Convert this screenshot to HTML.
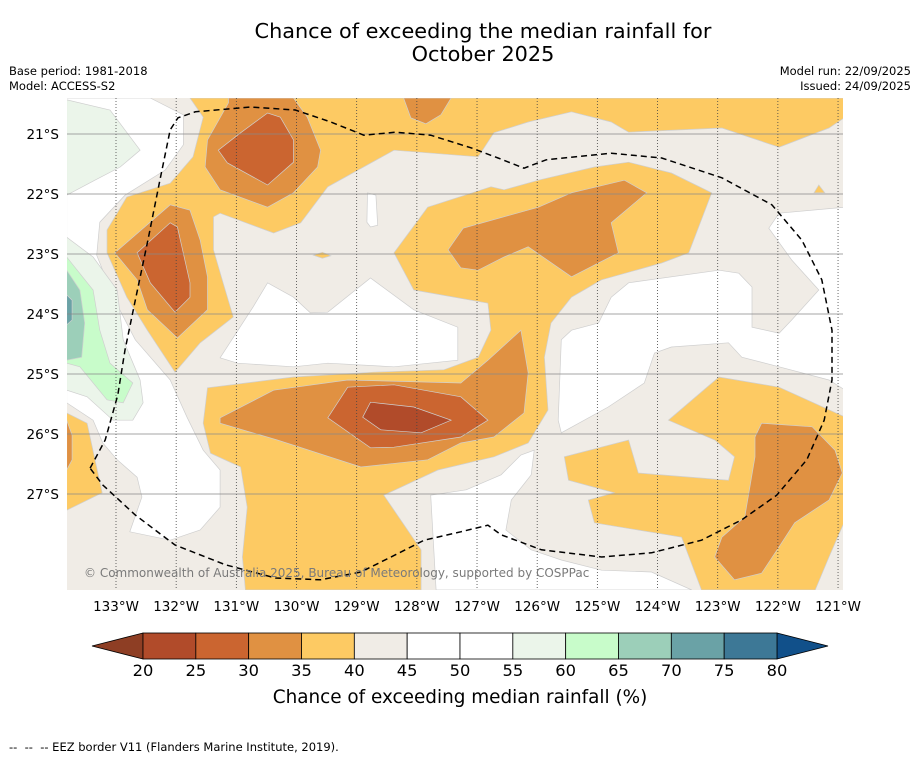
<!DOCTYPE html>
<html><head><meta charset="utf-8"><style>
body{margin:0;background:#fff;width:919px;height:758px;overflow:hidden;font-family:"Liberation Sans","DejaVu Sans",sans-serif}
svg{position:absolute;left:0;top:0}
</style></head><body>
<svg id="chart" width="919" height="758" font-family="DejaVu Sans, Liberation Sans, sans-serif">
<text x="483" y="38" font-size="20.8" text-anchor="middle">Chance of exceeding the median rainfall for</text>
<text x="483" y="61" font-size="20.8" text-anchor="middle">October 2025</text>
<text x="9" y="75" font-size="11.5">Base period: 1981-2018</text>
<text x="9" y="90" font-size="11.5">Model: ACCESS-S2</text>
<text x="911" y="75" font-size="11.5" text-anchor="end">Model run: 22/09/2025</text>
<text x="911" y="90" font-size="11.5" text-anchor="end">Issued: 24/09/2025</text>
<defs><clipPath id="mapclip"><rect x="67" y="98" width="776" height="492"/></clipPath></defs>
<g id="map" clip-path="url(#mapclip)"></g>
<g id="axes"></g>
<g id="cbar"></g>
<text x="460" y="703" font-size="18.4" text-anchor="middle">Chance of exceeding median rainfall (%)</text>
<text x="9" y="751" font-size="11.5" style="white-space:pre">--  --  -- EEZ border V11 (Flanders Marine Institute, 2019).</text>
</svg>
<script>
// Axis tick values
const lonTicks=[133,132,131,130,129,128,127,126,125,124,123,122,121];
const latTicks=[21,22,23,24,25,26,27];
// Colour levels (%)
const levelEdges=[20,25,30,35,40,45,50,55,60,65,70,75,80];
const levelColors=["#b14b2a","#cb6530","#e09142","#fdca63","#f0ece6","#ffffff","#ffffff","#ebf5ea","#c8fcca","#9ccfb9","#6aa2a6","#3d7896"];
const underColor="#8e3e24", overColor="#11508a";
// Contour regions, [lon °W, lat °S]
const white1=[[133.82,20.40],[132.43,20.40],[131.88,20.68],[131.88,21.18],[132.18,21.60],[132.85,22.02],[133.27,22.47],[133.32,23.02],[133.02,23.77],[132.68,24.43],[132.10,25.10],[131.82,25.72],[131.55,26.27],[131.27,26.60],[131.27,27.22],[131.60,27.60],[132.10,27.77],[132.77,27.63],[132.57,27.05],[132.65,26.72],[132.98,26.43],[133.22,26.15],[133.38,25.77],[133.82,25.48]];
const white2=[[131.27,24.73],[130.72,23.88],[130.48,23.48],[130.05,23.72],[129.77,23.98],[129.48,23.97],[128.77,23.40],[128.05,23.93],[127.32,24.22],[127.32,24.77],[128.38,24.88],[129.48,24.82],[130.05,24.88],[130.98,24.82]];
const whitePill=[[128.82,21.98],[128.68,22.02],[128.65,22.52],[128.77,22.55],[128.83,22.47]];
const white3=[[125.60,24.43],[125.43,24.27],[124.98,24.15],[124.77,23.72],[124.48,23.48],[122.98,23.27],[122.65,23.32],[122.43,23.55],[122.43,24.22],[121.98,24.32],[121.77,24.10],[121.32,23.60],[121.77,23.10],[122.15,22.57],[121.98,22.32],[120.88,22.22],[120.88,25.27],[121.15,25.10],[121.98,24.88],[122.60,24.72],[122.82,24.48],[123.77,24.55],[124.05,24.65],[124.22,25.15],[124.82,25.55],[125.60,25.98],[125.65,25.77]];
const white4=[[127.77,27.02],[127.18,26.93],[126.60,26.68],[126.27,26.35],[126.05,26.27],[126.10,26.68],[126.43,27.10],[126.52,27.60],[126.10,27.93],[125.60,28.10],[124.93,28.27],[124.10,28.30],[123.43,28.60],[127.68,28.60]];
const green55a=[[133.82,20.43],[133.10,20.60],[132.60,21.27],[132.93,21.55],[133.35,21.77],[133.82,22.02]];
const green55b=[[133.82,22.72],[133.38,23.05],[132.98,23.60],[132.88,24.43],[132.60,25.10],[132.55,25.48],[132.72,25.77],[133.05,25.77],[133.48,25.38],[133.82,25.27]];
const green60=[[133.82,23.05],[133.38,23.60],[133.27,24.27],[133.10,24.82],[132.72,25.15],[132.88,25.48],[133.15,25.43],[133.60,24.88],[133.82,24.82]];
const green65=[[133.82,23.27],[133.60,23.60],[133.52,24.15],[133.57,24.72],[133.82,24.77]];
const green70=[[133.82,23.68],[133.73,23.77],[133.73,24.10],[133.82,24.18]];
const yellow1=[[131.77,20.40],[131.55,20.72],[131.72,21.38],[132.10,21.82],[132.82,22.05],[133.15,22.60],[133.15,22.98],[132.82,23.72],[132.48,24.27],[132.02,24.97],[131.60,24.48],[131.05,24.05],[131.22,23.48],[131.38,22.93],[131.38,22.38],[131.27,22.32],[130.38,22.65],[129.93,22.48],[129.48,21.88],[128.38,21.27],[126.98,21.38],[126.72,20.98],[126.15,20.80],[125.43,20.63],[124.77,20.80],[124.48,20.97],[122.93,20.90],[121.98,21.22],[121.15,20.90],[120.88,20.72],[120.88,20.40]];
const yellow2=[[126.77,21.88],[127.82,22.22],[128.38,22.98],[128.05,23.60],[126.82,23.82],[126.77,24.27],[126.98,24.72],[127.55,24.93],[128.72,24.97],[130.05,25.05],[131.48,25.23],[131.55,25.82],[131.43,26.32],[130.93,26.55],[130.82,27.22],[130.90,28.05],[130.85,28.60],[127.93,28.60],[127.93,27.93],[128.55,27.02],[127.65,26.60],[126.72,26.38],[126.15,26.15],[125.82,25.60],[125.88,24.72],[125.77,24.15],[125.43,23.72],[124.93,23.43],[123.93,23.15],[123.48,22.98],[123.10,21.98],[123.77,21.65],[124.48,21.47],[125.05,21.55],[125.98,21.77],[126.55,21.93]];
const yellow3=[[122.98,25.05],[121.98,25.22],[120.88,25.72],[120.88,27.43],[121.15,28.05],[121.38,28.60],[123.27,28.60],[123.60,27.72],[125.05,27.48],[125.15,27.10],[124.72,26.98],[125.48,26.77],[125.55,26.38],[124.48,26.10],[124.32,26.65],[122.82,26.77],[122.72,26.38],[123.05,26.10],[123.82,25.77]];
const yellow4=[[133.82,25.65],[133.48,25.82],[133.23,26.98],[133.82,27.27]];
const yellowSpot1=[[121.40,21.98],[121.32,21.85],[121.22,21.98]];
const yellowSpot2=[[129.72,23.02],[129.57,22.97],[129.43,23.03],[129.57,23.07]];
const orangeTop=[[128.22,20.40],[128.10,20.73],[127.85,20.83],[127.60,20.68],[127.43,20.40]];
const orangeNW=[[131.13,20.40],[131.13,20.48],[131.48,21.10],[131.52,21.55],[131.27,21.93],[130.48,22.22],[130.05,21.98],[129.65,21.55],[129.60,21.27],[129.82,20.72],[130.05,20.40]];
const orangeW=[[133.02,22.98],[132.10,22.18],[131.77,22.27],[131.60,22.77],[131.48,23.38],[131.48,23.93],[131.98,24.40],[132.48,23.93],[132.65,23.43]];
const orangeMid=[[131.27,25.73],[130.38,25.27],[129.15,25.10],[127.27,25.15],[126.82,24.77],[126.27,24.27],[126.15,24.98],[126.22,25.65],[126.72,26.05],[127.27,26.15],[127.82,26.43],[128.93,26.55],[130.32,26.10],[131.27,25.82]];
const orangeNE=[[127.48,22.93],[127.23,22.57],[125.98,22.22],[125.43,21.98],[124.55,21.77],[124.18,21.98],[124.77,22.48],[124.65,22.98],[125.43,23.38],[126.15,22.88],[126.55,23.05],[126.98,23.27],[127.27,23.23]];
const orangeSE=[[122.27,25.82],[121.43,25.88],[121.05,26.27],[120.93,26.65],[121.15,27.10],[121.72,27.48],[121.98,27.88],[122.27,28.32],[122.72,28.43],[123.05,28.05],[122.93,27.72],[122.55,27.38],[122.38,26.38],[122.38,26.05]];
const orangeSW=[[133.82,25.77],[133.73,26.02],[133.73,26.43],[133.82,26.60]];
const darkNW=[[131.30,21.27],[131.15,21.48],[130.48,21.85],[130.05,21.47],[130.05,21.10],[130.27,20.72],[130.48,20.65],[130.93,20.98]];
const darkW=[[132.65,22.98],[132.10,22.48],[131.98,22.55],[131.77,23.48],[131.77,23.72],[132.02,23.97],[132.43,23.48]];
const darkMid=[[129.48,25.73],[129.15,25.22],[128.38,25.18],[127.27,25.38],[126.82,25.77],[127.27,26.05],[128.38,26.22],[128.77,26.23]];
const darkestMid=[[128.90,25.72],[128.77,25.47],[128.05,25.55],[127.43,25.77],[127.93,25.98],[128.60,25.93]];
const eezBorder=[[133.43,26.57],[133.18,26.10],[132.97,25.35],[132.85,24.60],[132.68,23.77],[132.47,22.77],[132.27,21.77],[132.10,20.93],[131.97,20.73],[131.68,20.63],[130.77,20.55],[130.02,20.60],[129.43,20.80],[128.88,21.02],[128.35,20.97],[127.77,21.02],[127.10,21.23],[126.65,21.40],[126.22,21.57],[125.85,21.43],[124.77,21.32],[123.93,21.40],[122.93,21.73],[122.10,22.18],[121.60,22.77],[121.27,23.43],[121.10,24.27],[121.10,25.10],[121.23,25.77],[121.52,26.43],[122.02,27.02],[122.60,27.43],[123.27,27.77],[124.10,27.98],[124.93,28.05],[125.93,27.93],[126.60,27.68],[126.82,27.52],[127.27,27.63],[127.88,27.77],[128.27,27.97],[128.93,28.30],[129.60,28.43],[130.35,28.40],[131.18,28.18],[132.02,27.85],[132.68,27.35],[133.22,26.85],[133.43,26.57]];
const layers=[
 ["white-region-west",white1,45],["white-region-centre",white2,45],["white-spot",whitePill,45],["white-region-east",white3,45],["white-region-south",white4,45],
 ["green-55-north",green55a,55],["green-55-west",green55b,55],["green-60",green60,60],["green-65",green65,65],["green-70",green70,70],
 ["yellow-north",yellow1,35],["yellow-central",yellow2,35],["yellow-southeast",yellow3,35],["yellow-southwest",yellow4,35],["yellow-spot-ne",yellowSpot1,35],["yellow-spot-c",yellowSpot2,35],
 ["orange-top",orangeTop,30],["orange-northwest",orangeNW,30],["orange-west",orangeW,30],["orange-middle",orangeMid,30],["orange-northeast",orangeNE,30],["orange-southeast",orangeSE,30],["orange-southwest",orangeSW,30],
 ["dark-northwest",darkNW,25],["dark-west",darkW,25],["dark-middle",darkMid,25],["darkest-middle",darkestMid,20]
];
const cbarLabels=[20,25,30,35,40,45,50,55,60,65,70,75,80];

const NS="http://www.w3.org/2000/svg";
const X0=116, PXLON=60.17, Y0=134, PXLAT=60;
function xS(lonW){return X0+(133-lonW)*PXLON;}
function yS(latS){return Y0+(latS-21)*PXLAT;}
function colorFor(v){const i=levelEdges.findIndex((e,k)=>v>=e&&v<levelEdges[k+1]);return levelColors[i];}
function mk(tag,attrs,parent){const e=document.createElementNS(NS,tag);for(const k in attrs)e.setAttribute(k,attrs[k]);parent.appendChild(e);return e;}
const map=document.getElementById('map'),axes=document.getElementById('axes'),cbar=document.getElementById('cbar');
const bg=mk('rect',{x:67,y:98,width:776,height:492,fill:levelColors[4]},map);


layers.forEach(L=>{
 const p=mk('polygon',{points:L[1].map(c=>xS(c[0]).toFixed(1)+','+yS(c[1]).toFixed(1)).join(' '),fill:colorFor(L[2]),stroke:'#cfcfcf','stroke-width':0.7},map);
 
 
});
lonTicks.forEach(l=>{
 const ln=mk('line',{x1:xS(l),x2:xS(l),y1:98,y2:590,stroke:'#444','stroke-width':0.8,'stroke-dasharray':'1,2'},map);
 
 
 const t=mk('text',{x:xS(l),y:611,'font-size':13.5,'text-anchor':'middle'},axes);t.textContent=l+'°W';
 
 
});
latTicks.forEach(l=>{
 const ln=mk('line',{x1:67,x2:843,y1:yS(l),y2:yS(l),stroke:'#888','stroke-width':0.8},map);
 
 
 const t=mk('text',{x:59,y:yS(l)+5,'font-size':13.5,'text-anchor':'end'},axes);t.textContent=l+'°S';
 
 
});
const eez=mk('polyline',{points:eezBorder.map(c=>xS(c[0]).toFixed(1)+','+yS(c[1]).toFixed(1)).join(' '),fill:'none',stroke:'#000','stroke-width':1.5,'stroke-dasharray':'6,4'},map);


const wm=mk('text',{x:84,y:577,'font-size':12,fill:'#7a7a7a'},map);wm.textContent='© Commonwealth of Australia 2025, Bureau of Meteorology, supported by COSPPac';


// colorbar
const CB0=143,CB1=777,CBT=633,CBH=26;
function cx(v){return CB0+(v-levelEdges[0])/(levelEdges[levelEdges.length-1]-levelEdges[0])*(CB1-CB0);}
const tl=mk('polygon',{points:`92,${CBT+CBH/2} ${CB0},${CBT} ${CB0},${CBT+CBH}`,fill:underColor,stroke:'#000','stroke-width':0.8},cbar);


const tr=mk('polygon',{points:`828,${CBT+CBH/2} ${CB1},${CBT} ${CB1},${CBT+CBH}`,fill:overColor,stroke:'#000','stroke-width':0.8},cbar);


levelColors.forEach((c,i)=>{
 const r=mk('rect',{x:cx(levelEdges[i]),y:CBT,width:cx(levelEdges[i+1])-cx(levelEdges[i]),height:CBH,fill:c,stroke:'#000','stroke-width':0.8},cbar);
 
 
});
cbarLabels.forEach(v=>{
 const t=mk('text',{x:cx(v),y:676,'font-size':16.3,'text-anchor':'middle'},cbar);t.textContent=v;
 
 
});
</script>
</body></html>
